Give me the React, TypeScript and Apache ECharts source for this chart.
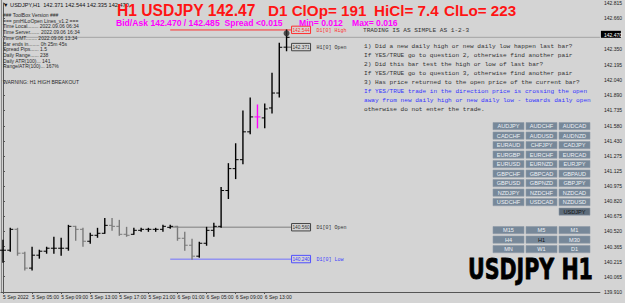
import React, { useEffect, useRef } from 'react';
import * as echarts from 'echarts';

const tickIndices = [0, 4, 8, 12, 16, 20, 24, 28, 32, 36];
const timeLabels = ['5 Sep 2022', '5 Sep 05:00', '5 Sep 09:00', '5 Sep 13:00', '5 Sep 17:00', '5 Sep 21:00', '6 Sep 01:00', '6 Sep 05:00', '6 Sep 09:00', '6 Sep 13:00'];

const opens = [140.33, 140.33, 140.54, 140.30, 140.15, 140.28, 140.32, 140.35, 140.35, 140.35, 140.57, 140.54, 140.42, 140.48, 140.50, 140.58, 140.57, 140.49, 140.49, 140.53, 140.54, 140.54, 140.54, 140.56, 140.57, 140.45, 140.38, 140.27, 140.40, 140.53, 140.57, 140.93, 141.15, 141.24, 141.52, 141.67, 141.66, 141.76, 141.91, 142.371];
const highs = [140.43, 140.55, 140.55, 140.31, 140.36, 140.33, 140.36, 140.46, 140.45, 140.58, 140.57, 140.55, 140.50, 140.55, 140.65, 140.65, 140.63, 140.56, 140.55, 140.55, 140.55, 140.55, 140.58, 140.58, 140.57, 140.51, 140.44, 140.41, 140.56, 140.60, 140.96, 141.20, 141.40, 141.73, 141.86, 141.79, 141.80, 142.11, 142.41, 142.544];
const lows = [140.21, 140.32, 140.28, 140.13, 140.13, 140.25, 140.30, 140.30, 140.28, 140.33, 140.43, 140.37, 140.40, 140.46, 140.50, 140.53, 140.48, 140.47, 140.49, 140.52, 140.52, 140.52, 140.52, 140.55, 140.43, 140.33, 140.24, 140.26, 140.38, 140.47, 140.56, 140.85, 141.05, 141.20, 141.50, 141.56, 141.56, 141.71, 141.87, 142.335];
const closes = [140.33, 140.54, 140.30, 140.15, 140.28, 140.32, 140.35, 140.35, 140.35, 140.57, 140.54, 140.42, 140.48, 140.50, 140.58, 140.57, 140.49, 140.48, 140.53, 140.54, 140.54, 140.54, 140.57, 140.57, 140.45, 140.38, 140.27, 140.40, 140.53, 140.57, 140.93, 141.15, 141.24, 141.52, 141.67, 141.67, 141.75, 141.91, 142.37, 142.470];
const insideBars = [35];

const priceTicks = [139.910, 140.065, 140.215, 140.365, 140.520, 140.675, 140.820, 140.975, 141.125, 141.275, 141.430, 141.580, 141.735, 141.890, 142.040, 142.195, 142.350, 142.660, 142.815];
const bidPrice = 142.470;

const levelNames = ['D1[0] High', 'H1[0] Open', 'D1[0] Open', 'D1[0] Low'];
const levelPrices = [142.544, 142.371, 140.560, 140.240];
const levelStart = [23, 39, 23, 23];

const headerText = '\u25BC USDJPY,H1  142.371 142.544 142.335 142.470';
const infoLines = [
  '### ToolBox Version ###',
  '=== pmHiLoOpen Lines_v1.2 ===',
  'Time Local........ 2022.09.06 06:34',
  'Time Server....... 2022.09.06 16:34',
  'Time GMT........ 2022.09.06 13:34',
  'Bar ends in........ 0h 25m 45s',
  'Spread Pips...... 1.5',
  'Daily Range...... 238',
  'Daily ATR(100)... 141',
  'Range/ATR(100)... 167%',
];
const warningText = 'WARNING: H1 HIGH BREAKOUT';
const ruleLines = [
  '1) Did a new daily high or new daily low happen last bar?',
  'If YES/TRUE go to question 2, otherwise find another pair',
  '2) Did this bar test the high or low of last bar?',
  'If YES/TRUE go to question 3, otherwise find another pair',
  '3) Has price returned to the open price of the current bar?',
  'If YES/TRUE trade in the direction price is crossing the open',
  'away from new daily high or new daily low - towards daily open',
  'otherwise do not enter the trade.',
];
const ruleBlue = [5, 6];
const pairRows = [
  ['AUDJPY', 'AUDCHF', 'AUDCAD'],
  ['CADCHF', 'AUDUSD', 'AUDNZD'],
  ['EURAUD', 'CHFJPY', 'CADJPY'],
  ['EURGBP', 'EURCHF', 'EURCAD'],
  ['EURUSD', 'EURNZD', 'EURJPY'],
  ['GBPCHF', 'GBPCAD', 'GBPAUD'],
  ['GBPUSD', 'GBPNZD', 'GBPJPY'],
  ['NZDJPY', 'NZDCHF', 'NZDCAD'],
  ['USDCHF', 'USDCAD', 'NZDUSD'],
  ['', '', 'USDJPY'],
];
const tfRows = [
  ['M15', 'M5', 'M1'],
  ['H4', 'H1', 'M30'],
  ['MN', 'W1', 'D1'],
];

const BG = '#d4d4d4';
const SANS = '"Liberation Sans", Arial, sans-serif';
const MONO = '"Liberation Mono", "DejaVu Sans Mono", monospace';

function buildGraphics() {
  const g: any[] = [];
  g.push({ type: 'line', shape: { x1: 1.5, y1: 0, x2: 1.5, y2: 292 }, style: { stroke: '#8a8a8a', lineWidth: 1 }, z: 1 });
  g.push({ type: 'text', x: 3, y: 5, style: { text: headerText, fontSize: 5.6, fontFamily: SANS, fill: '#111', verticalAlign: 'middle' }, z: 10 });
  infoLines.forEach((t, i) => {
    g.push({ type: 'text', x: 3, y: 15 + i * 5.7, style: { text: t, fontSize: 5, fontFamily: SANS, fill: '#2a2a2a', verticalAlign: 'middle' }, z: 10 });
  });
  g.push({ type: 'text', x: 3, y: 82, style: { text: warningText, fontSize: 5, fontFamily: SANS, fill: '#2a2a2a', verticalAlign: 'middle' }, z: 10 });

  g.push({ type: 'text', x: 117, y: 10, style: { text: 'H1 USDJPY 142.47', fontSize: 15.6, fontWeight: 'bold', fontFamily: SANS, fill: '#ff1414', verticalAlign: 'middle' }, z: 10 });
  g.push({ type: 'text', x: 268, y: 10, style: { text: 'D1 ClOp= 191', fontSize: 15.2, fontWeight: 'bold', fontFamily: SANS, fill: '#ff1414', verticalAlign: 'middle' }, z: 10 });
  g.push({ type: 'text', x: 374, y: 10, style: { text: 'HiCl= 7.4', fontSize: 15.2, fontWeight: 'bold', fontFamily: SANS, fill: '#ff1414', verticalAlign: 'middle' }, z: 10 });
  g.push({ type: 'text', x: 444, y: 10, style: { text: 'ClLo= 223', fontSize: 15.2, fontWeight: 'bold', fontFamily: SANS, fill: '#ff1414', verticalAlign: 'middle' }, z: 10 });

  g.push({ type: 'text', x: 116, y: 22.8, style: { text: 'Bid/Ask 142.470 / 142.485  Spread <0.015', fontSize: 8.6, fontWeight: 'bold', fontFamily: SANS, fill: '#ff00ff', verticalAlign: 'middle' }, z: 10 });
  g.push({ type: 'text', x: 299, y: 22.8, style: { text: 'Min= 0.012', fontSize: 8.6, fontWeight: 'bold', fontFamily: SANS, fill: '#ff00ff', verticalAlign: 'middle' }, z: 10 });
  g.push({ type: 'text', x: 352, y: 22.8, style: { text: 'Max= 0.016', fontSize: 8.6, fontWeight: 'bold', fontFamily: SANS, fill: '#ff00ff', verticalAlign: 'middle' }, z: 10 });

  g.push({ type: 'text', x: 363, y: 30, style: { text: 'TRADING IS AS SIMPLE AS 1-2-3', fontSize: 6.1, fontFamily: MONO, fill: '#333', verticalAlign: 'middle' }, z: 10 });
  ruleLines.forEach((t, i) => {
    g.push({ type: 'text', x: 364, y: 46 + i * 9.1, style: { text: t, fontSize: 6.1, fontFamily: MONO, fill: ruleBlue.includes(i) ? '#3434ff' : '#333', verticalAlign: 'middle' }, z: 10 });
  });

  const colX = [493, 526, 559];
  const addButton = (label: string, x: number, y: number, h: number, dark: boolean, darkText: boolean) => {
    g.push({
      type: 'group', z: 10,
      children: [
        { type: 'rect', shape: { x, y, width: 31, height: h }, style: { fill: dark ? '#5f6d7b' : '#778899', stroke: '#8e9aa7', lineWidth: 0.6 } },
        { type: 'text', x: x + 15.5, y: y + h / 2 + 0.3, style: { text: label, fontSize: 5.6, fontFamily: SANS, fill: darkText ? '#111' : '#eef1f5', align: 'center', verticalAlign: 'middle' } },
      ],
    });
  };
  pairRows.forEach((row, r) => {
    row.forEach((label, c) => {
      if (!label) return;
      const sel = label === 'USDJPY';
      addButton(label, colX[c], 122.5 + r * 9.5, 7.2, sel, sel);
    });
  });
  tfRows.forEach((row, r) => {
    row.forEach((label, c) => {
      addButton(label, colX[c], 226.5 + r * 9.5, 7.2, false, label === 'H1');
    });
  });

  g.push({ type: 'text', x: 468, y: 269, scaleX: 0.735, style: { text: 'USDJPY H1', fontSize: 28, fontWeight: 'bold', fontFamily: '"DejaVu Sans", sans-serif', fill: '#000', stroke: '#000', lineWidth: 0.8, verticalAlign: 'middle' }, z: 10 });
  return g;
}

export default function App() {
  const ref = useRef<HTMLDivElement>(null);
  useEffect(() => {
    if (!ref.current) return;
    const chart = echarts.init(ref.current, null, { renderer: 'svg' });
    const ohlc = opens.map((o, i) => [i, o, highs[i], lows[i], closes[i]]);
    const levelColors = ['#ff3030', '#555555', '#9a9a9a', '#7373ff'];
    const boxFill = ['#d4d4d4', '#d4d4d4', '#d4d4d4', '#d4d4d4'];
    const boxStroke = ['#ff3030', '#444444', '#444444', '#5050ff'];
    const boxText = ['#ff3030', '#333333', '#333333', '#4040ff'];
    const lastIdx = opens.length - 1;

    const option: any = {
      animation: false,
      backgroundColor: BG,
      grid: { left: 0, right: 21, top: 3, bottom: 11, containLabel: false },
      xAxis: {
        type: 'value', min: -0.27, max: 82.1,
        axisLine: { show: true, onZero: false, lineStyle: { color: '#555', width: 1 } },
        axisTick: { show: true, customValues: tickIndices, length: 2, lineStyle: { color: '#555' } },
        axisLabel: {
          show: true, customValues: tickIndices, align: 'left', margin: 2, fontSize: 5, color: '#222', fontFamily: SANS,
          formatter: (v: number) => timeLabels[tickIndices.indexOf(Math.round(v))] ?? '',
        },
        splitLine: { show: false },
      },
      yAxis: {
        type: 'value', position: 'right', min: 139.91, max: 142.815, scale: true,
        axisLine: { show: true, lineStyle: { color: '#555', width: 1 } },
        axisTick: { show: true, customValues: priceTicks, length: 2, lineStyle: { color: '#555' } },
        axisLabel: {
          show: true, customValues: priceTicks, margin: 4, fontSize: 5, color: '#222', fontFamily: SANS,
          formatter: (v: number) => v.toFixed(3),
        },
        splitLine: { show: false },
      },
      graphic: buildGraphics(),
      series: [
        {
          type: 'line', silent: true, symbol: 'none',
          data: [[-0.27, bidPrice], [82.1, bidPrice]],
          lineStyle: { color: '#a3a3a3', width: 1 }, z: 1,
        },
        {
          type: 'custom', silent: true, z: 3,
          data: levelPrices.map((p, i) => [levelStart[i], p, i]),
          renderItem: (params: any, api: any) => {
            const k = api.value(2);
            const p = api.value(1);
            const a = api.coord([api.value(0), p]);
            const e = api.coord([lastIdx, p]);
            const bx = e[0] + 5;
            const children: any[] = [
              { type: 'line', shape: { x1: a[0], y1: a[1], x2: bx, y2: a[1] }, style: { stroke: levelColors[k], lineWidth: k === 2 ? 1.5 : 1 } },
              { type: 'rect', shape: { x: bx, y: a[1] - 3.8, width: 19, height: 7.4 }, style: { fill: boxFill[k], stroke: boxStroke[k], lineWidth: 1 } },
              { type: 'text', x: bx + 9.5, y: a[1] + 0.2, style: { text: p.toFixed(3), fontSize: 4.8, fontFamily: SANS, fill: boxText[k], align: 'center', verticalAlign: 'middle' } },
              { type: 'text', x: bx + 25, y: a[1] + 0.6, style: { text: levelNames[k], fontSize: 5, fontFamily: MONO, fill: boxText[k], verticalAlign: 'middle' } },
            ];
            return { type: 'group', children };
          },
        },
        {
          type: 'custom', silent: true, z: 5,
          data: ohlc,
          renderItem: (params: any, api: any) => {
            const i = api.value(0);
            const o = api.value(1), h = api.value(2), l = api.value(3), c = api.value(4);
            const ph = api.coord([i, h]);
            const pl = api.coord([i, l]);
            const po = api.coord([i, o]);
            const pc = api.coord([i, c]);
            let color = c >= o ? '#000000' : '#7a7a7a';
            if (insideBars.includes(i)) color = '#ff00ff';
            const st = { stroke: color, lineWidth: 1.4 };
            return {
              type: 'group',
              children: [
                { type: 'line', shape: { x1: ph[0], y1: ph[1] - 0.5, x2: pl[0], y2: pl[1] + 0.5 }, style: st },
                { type: 'line', shape: { x1: po[0] - 3, y1: po[1], x2: po[0], y2: po[1] }, style: { stroke: color, lineWidth: 1 } },
                { type: 'line', shape: { x1: pc[0], y1: pc[1], x2: pc[0] + 3, y2: pc[1] }, style: { stroke: color, lineWidth: 1 } },
              ],
            };
          },
        },
        {
          type: 'scatter', silent: true, symbol: 'circle', symbolSize: 6, z: 6,
          data: [[lastIdx, 142.51]],
          itemStyle: { color: '#2a2a2a' },
        },
        {
          type: 'custom', silent: true, z: 8,
          data: [[0, bidPrice]],
          renderItem: (params: any, api: any) => {
            const y = api.coord([0, api.value(1)])[1] - 3;
            const x = params.coordSys.x + params.coordSys.width;
            return {
              type: 'group',
              children: [
                { type: 'rect', shape: { x: x + 1, y: y - 3.5, width: 20, height: 7 }, style: { fill: '#000' } },
                { type: 'text', x: x + 4, y: y + 0.2, style: { text: api.value(1).toFixed(3), fontSize: 5, fontFamily: SANS, fill: '#fff', verticalAlign: 'middle' } },
              ],
            };
          },
        },
      ],
    };
    chart.setOption(option);
    return () => chart.dispose();
  }, []);
  return <div ref={ref} style={{ position: 'fixed', left: 0, top: 0, width: 625, height: 303 }} />;
}
